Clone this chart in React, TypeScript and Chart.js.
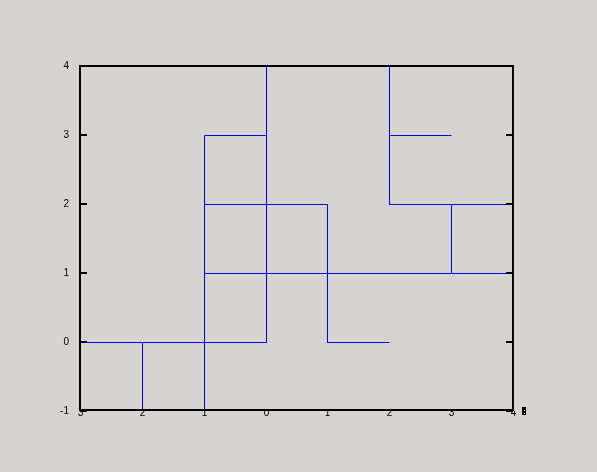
import React, { useEffect, useRef } from "react";
import { Chart, registerables, LinearScale } from "chart.js";

// Linear scale that snaps pixels to crisp 1px positions
class PixelLinearScale extends LinearScale {
  static id = "pixelLinear";
  static defaults = LinearScale.defaults;
  getPixelForValue(value: number) {
    const p = super.getPixelForValue(value);
    return Math.round(p) + 0.5;
  }
}

Chart.register(...registerables, PixelLinearScale);

// Line segments (data coordinates)
const segStartX = [-3, -2, -1, -1, 0, -1, 1, 1, -1, 2, 2, 2, 3];
const segStartY = [0, 0, -1, 3, 0, 2, 2, 0, 1, 4, 3, 2, 2];
const segEndX = [0, -2, -1, 0, 0, 1, 1, 2, 4, 2, 3, 4, 3];
const segEndY = [0, -1, 3, 3, 4, 2, 0, 0, 1, 2, 3, 2, 1];

const xMin = -3;
const xMax = 4;
const yMin = -1;
const yMax = 4;
const xTickLabels = ["3", "2", "1", "0", "1", "2", "3", "4"];

const BG = "#d6d3d0";
const LINE = "#0000ff";
const FONT = { family: "'Liberation Sans', Arial, sans-serif", size: 10 };

const framePlugin = {
  id: "frame",
  afterDatasetsDraw(chart: any) {
    const { ctx, chartArea, scales } = chart;
    const { left, right, top } = chartArea;
    const bottom = chartArea.bottom - 1;
    ctx.save();
    ctx.strokeStyle = "#000";
    ctx.lineWidth = 2;
    ctx.beginPath();
    ctx.moveTo(left, bottom);
    ctx.lineTo(left, top);
    ctx.lineTo(right, top);
    ctx.lineTo(right, bottom);
    ctx.closePath();
    ctx.stroke();
    // inner ticks on left and right
    const ys = scales.y;
    ys.ticks.forEach((t: any) => {
      const py = Math.floor(ys.getPixelForValue(t.value));
      ctx.beginPath();
      ctx.moveTo(left, py);
      ctx.lineTo(left + 7, py);
      ctx.moveTo(right, py);
      ctx.lineTo(right - 7, py);
      ctx.stroke();
    });
    // odd glyph box after last x label
    const gx = right + 9;
    const gy = chartArea.bottom - 4;
    ctx.fillStyle = "#000";
    ctx.fillRect(gx, gy, 4, 8);
    ctx.fillStyle = BG;
    ctx.fillRect(gx + 2, gy + 3, 1, 1);
    ctx.fillRect(gx + 2, gy + 6, 1, 1);
    ctx.restore();
  },
};

export default function App() {
  const ref = useRef<HTMLCanvasElement>(null);
  useEffect(() => {
    document.body.style.margin = "0";
    document.body.style.background = BG;
    const datasets = segStartX.map((_, i) => ({
      data: [
        { x: segStartX[i], y: segStartY[i] },
        { x: segEndX[i], y: segEndY[i] },
      ],
      showLine: true,
      borderColor: LINE,
      backgroundColor: LINE,
      borderWidth: 1,
      borderCapStyle: "butt" as const,
      pointRadius: 0,
      pointHoverRadius: 0,
      fill: false,
    }));
    const chart = new Chart(ref.current!, {
      type: "scatter",
      data: { datasets },
      options: {
        animation: false,
        responsive: false,
        devicePixelRatio: 1,
        layout: { padding: { left: 0, right: 84, top: 66, bottom: 0 } },
        plugins: { legend: { display: false }, tooltip: { enabled: false } },
        scales: {
          x: {
            type: "pixelLinear" as any,
            min: xMin,
            max: xMax,
            afterFit: (s: any) => {
              s.height = 61;
            },
            grid: { display: false, drawTicks: false },
            border: { display: false },
            ticks: {
              stepSize: 1,
              autoSkip: false,
              maxRotation: 0,
              padding: -4,
              color: "#000",
              font: FONT,
              callback: (_v: any, i: number) => xTickLabels[i],
            },
          },
          y: {
            type: "pixelLinear" as any,
            min: yMin,
            max: yMax,
            afterFit: (s: any) => {
              s.width = 80;
            },
            grid: { display: false, drawTicks: false },
            border: { display: false },
            ticks: {
              stepSize: 1,
              padding: 11,
              color: "#000",
              font: FONT,
            },
          },
        },
      },
      plugins: [framePlugin],
    });
    return () => chart.destroy();
  }, []);
  return (
    <div style={{ width: 597, height: 472, background: BG, position: "relative" }}>
      <canvas ref={ref} width={597} height={472} style={{ display: "block" }} />
    </div>
  );
}
